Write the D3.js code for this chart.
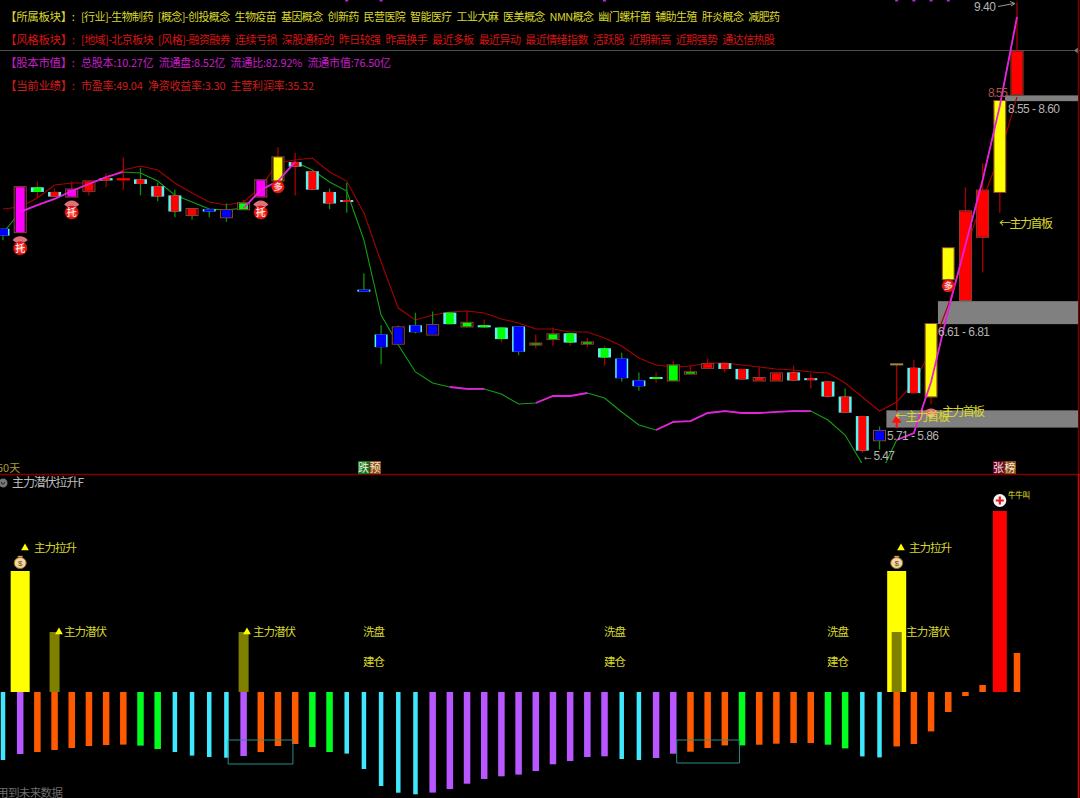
<!DOCTYPE html>
<html>
<head>
<meta charset="utf-8">
<script src="https://cdn.jsdelivr.net/npm/d3@7"></script>
<style>
  html, body { margin: 0; padding: 0; background: #000; overflow: hidden; }
  svg { display: block; }
</style>
</head>
<body>
<svg id="chart" width="1080" height="798"></svg>
<script>
// candles: body top, body bottom, high, low (price)
var bodyTop = [7.44,7.81,7.80,7.76,7.79,7.86,7.88,7.88,7.87,7.81,7.73,7.62,7.61,7.61,7.67,7.87,8.07,8.02,7.94,7.76,7.69,6.91,6.52,6.59,6.60,6.61,6.71,6.63,6.60,6.58,6.59,6.45,6.53,6.53,6.46,6.40,6.31,6.12,6.15,6.26,6.20,6.27,6.27,6.22,6.15,6.19,6.19,6.14,6.11,5.98,5.81,5.69,6.26,6.23,6.62,7.28,7.60,7.78,8.56,8.99]
var bodyBottom = [7.38,7.41,7.76,7.72,7.72,7.77,7.86,7.86,7.83,7.72,7.59,7.56,7.59,7.54,7.61,7.72,7.86,7.98,7.78,7.66,7.68,6.90,6.41,6.44,6.54,6.52,6.61,6.59,6.59,6.48,6.37,6.44,6.48,6.45,6.44,6.32,6.14,6.07,6.14,6.12,6.18,6.23,6.22,6.13,6.12,6.12,6.12,6.13,5.98,5.84,5.51,5.60,6.26,6.01,5.98,7.00,6.82,7.37,7.76,8.61]
var high = [7.44,7.81,7.85,7.79,7.85,7.86,7.92,8.06,7.97,7.84,7.78,7.62,7.61,7.66,7.69,7.87,8.15,8.10,7.94,7.79,7.84,7.05,6.60,6.60,6.71,6.72,6.71,6.72,6.65,6.58,6.59,6.52,6.58,6.53,6.49,6.42,6.36,6.19,6.19,6.29,6.25,6.31,6.27,6.22,6.24,6.19,6.25,6.18,6.12,6.05,5.81,5.72,6.26,6.30,6.62,7.28,7.80,8.01,8.56,9.41]
var low = [7.34,7.41,7.71,7.72,7.72,7.73,7.80,7.78,7.73,7.68,7.54,7.52,7.54,7.50,7.61,7.72,7.86,7.73,7.78,7.61,7.58,6.90,6.26,6.44,6.53,6.52,6.61,6.58,6.58,6.45,6.34,6.40,6.42,6.42,6.41,6.25,6.11,6.03,6.10,6.12,6.18,6.23,6.19,6.13,6.12,6.12,6.12,6.05,5.97,5.84,5.49,5.52,5.85,6.01,5.91,7.00,6.82,7.06,7.58,8.61]
// r red, g green, b blue, m magenta, y yellow, k cap
var candleFill = ["b","m","g","r","m","r","r","r","r","r",
  "r","r","b","b","g","m","y","r","r","r",
  "r","b","b","b","b","b","g","g","g","g",
  "b","g","g","g","g","g","b","b","g","g",
  "g","r","r","r","r","r","r","r","r","r",
  "r","b","k","r","y","y","r","r","y","r"]
// c cyan sides, d dark outline, p plain
var candleEdge = ["c","d","c","c","d","d","c","p","c","c",
  "c","d","c","d","d","d","d","c","c","c",
  "c","c","c","d","c","d","c","d","c","c",
  "c","d","d","c","d","c","c","c","c","d",
  "d","d","c","c","d","d","c","c","c","c",
  "c","d","p","c","d","d","d","d","d","d"]
var wickKind = ["g","r","r","r","r","r","r","r","g","g",
  "g","g","g","g","r","r","r","r","r","g",
  "g","g","g","r","g","g","g","r","r","r",
  "g","r","r","r","r","r","g","g","r","r",
  "r","r","r","r","r","r","r","r","r","g",
  "r","g","r","r","r","r","r","r","r","r"]
// upper and lower band lines
var upperLine = [7.612,7.629,7.707,7.820,7.838,7.838,7.873,7.951,7.986,7.951,7.838,7.751,7.673,7.646,7.673,7.803,8.012,8.038,8.055,7.934,7.855,7.577,7.151,6.750,6.646,6.689,6.716,6.724,6.707,6.655,6.620,6.568,6.568,6.542,6.542,6.489,6.420,6.315,6.254,6.237,6.246,6.272,6.272,6.254,6.237,6.220,6.211,6.194,6.185,6.098,5.976,5.854,5.933,6.098,6.385,6.776,7.255,7.690,8.081,8.586]
var lowerLine = [7.403,7.586,7.646,7.699,7.768,7.829,7.890,7.934,7.925,7.855,7.733,7.673,7.612,7.603,7.620,7.777,7.855,8.021,7.951,7.847,7.768,7.342,6.689,6.428,6.194,6.098,6.063,6.046,6.046,6.002,5.915,5.924,5.985,5.985,6.011,5.967,5.846,5.732,5.689,5.759,5.767,5.837,5.854,5.837,5.837,5.846,5.854,5.854,5.776,5.645,5.393,5.289,5.602,5.663,6.107,6.733,7.298,7.864,8.508,9.282]
var strongRanges = [[1,7],[14,17],[26,28],[31,34],[38,47],[52,59]]
// gray zones
var zoneLow = [8.55,6.61,5.71]
var zoneHigh = [8.60,6.81,5.86]
var zoneStart = [58.3,54.4,51.4]
// signals
var tuoIdx = [1,4,15]
var duoIdx = [16,55]
var fanIdx = [1,4,15,54]
var topMarkIdx = [20,22,35,52,53,54,55]
// lower panel bars
var oscValue = [-68,-62,-60,-58,-56,-54,-53,-52.6,-53.6,-57,-60,-63.6,-65,-65.7,-64,-60,-54,-52,-55,-60,-61.6,-77,-94,-100.7,-102.3,-100.6,-97,-91.7,-87,-84.3,-82.6,-79,-72.3,-69,-65,-64.3,-67,-68,-66,-61.7,-59.7,-56,-53.4,-53.4,-52.7,-51.7,-51,-51,-52.7,-56.4,-64.4,-65.4,-54.4,-52,-39.4,-20,-4,7,181,39]
var oscKind = ["c","p","o","o","o","o","o","o","g","g",
  "c","c","c","c","p","o","o","o","g","g",
  "c","c","c","c","c","p","p","p","p","p",
  "p","p","p","p","p","p","c","c","p","p",
  "o","o","o","g","o","o","o","o","g","g",
  "c","c","o","o","o","o","o","o","r","o"]
var pullIdx = [1,52]
var pullVal = [121,121]
var latentIdx = [3,14,52]
var latentVal = [60,60,60]
var boxStart = [13.1,39.2]
var boxEnd = [16.87,42.85]
var boxTop = [-48,-48]
var boxBottom = [-72,-71]

var headerLabels = ["【所属板块】:","【风格板块】:","【股本市值】:","【当前业绩】:"]
var headerTexts = [
  "[行业]-生物制药 [概念]-创投概念 生物疫苗 基因概念 创新药 民营医院 智能医疗 工业大麻 医美概念 NMN概念 幽门螺杆菌 辅助生殖 肝炎概念 减肥药",
  "[地域]-北京板块 [风格]-融资融券 连续亏损 深股通标的 昨日较强 昨高换手 最近多板 最近异动 最近情绪指数 活跃股 近期新高 近期强势 通达信热股",
  "总股本:10.27亿 流通盘:8.52亿 流通比:82.92% 流通市值:76.50亿",
  "市盈率:49.04 净资收益率:3.30 主营利润率:35.32"
]
var headerWidths = [699,694,310,233]
var headerColors = ["#d9d92e","#d81414","#c81ec8","#d01c1c"]

var n = bodyTop.length
var svg = d3.select("#chart")
var cjk = "'Noto Sans CJK SC', sans-serif"
var num = "'Liberation Sans', sans-serif"

svg.append("rect").attr("width",1080).attr("height",798).attr("fill","#000")

var x = d3.scaleLinear().domain([0,n-1]).range([3,1017])
var y = d3.scaleLinear().domain([9.43,5.08]).range([0,500])
var yOsc = d3.scaleLinear().domain([-100,181]).range([792,511])

var fillColor = d3.scaleOrdinal().domain(["r","g","b","m","y","k"]).range(["#ff0000","#00ff00","#0000ff","#ff00ff","#ffff00","#a08c30"])
var wickColor = d3.scaleOrdinal().domain(["r","g"]).range(["#a80000","#0f8f0f"])
var barColor = d3.scaleOrdinal().domain(["c","p","o","g","r"]).range(["#40e8ff","#b857ff","#ff5a00","#00ff1e","#ff0000"])
var barWidth = d3.scaleOrdinal().domain(["c","p","o","g","r"]).range([4.5,6.5,6.5,6.5,14])

var defs = svg.append("defs")
var grad = defs.append("radialGradient").attr("id","ball")
grad.append("stop").attr("offset","0%").attr("stop-color","#ff8a70")
grad.append("stop").attr("offset","70%").attr("stop-color","#ee1a10")
grad.append("stop").attr("offset","100%").attr("stop-color","#c01010")
defs.append("clipPath").attr("id","mainClip").append("rect").attr("width",1078).attr("height",463)

function label(px,py,t,color,size,len,family) {
  var s = svg.append("text").attr("x",px).attr("y",py).text(t)
    .style("font-family",family || cjk).style("font-size",(size || 12)+"px").attr("fill",color)
  if (len) s.attr("textLength",len).attr("lengthAdjust","spacing")
  return s
}

// header rows
headerLabels.forEach(function(t,i) {
  var py = 21 + i*23
  label(5,py,t,headerColors[i],11.5,70)
  label(81,py,headerTexts[i],headerColors[i],11,headerWidths[i]).style("word-spacing","3px")
})

// frame lines
svg.append("line").attr("x1",0).attr("x2",1080).attr("y1",50.5).attr("y2",50.5).attr("stroke","#4d4d4d")
svg.append("path").attr("d","M1074,50.5L1078,47.5L1078,53.5Z").attr("fill","#777")
svg.append("line").attr("x1",0).attr("x2",1080).attr("y1",474.5).attr("y2",474.5).attr("stroke","#800000").attr("stroke-width",1.5)
svg.append("line").attr("x1",1078.5).attr("x2",1078.5).attr("y1",0).attr("y2",474).attr("stroke","#800000").attr("stroke-width",1.5)
svg.append("line").attr("x1",1078.5).attr("x2",1078.5).attr("y1",474).attr("y2",798).attr("stroke","#e00000").attr("stroke-width",1.5)

// zones
svg.selectAll(".zone").data(zoneLow).enter().append("rect").attr("class","zone")
  .attr("x",function(d,i) { return x(zoneStart[i]) })
  .attr("y",function(d,i) { return y(zoneHigh[i]) })
  .attr("width",function(d,i) { return 1078 - x(zoneStart[i]) })
  .attr("height",function(d,i) { return y(zoneLow[i]) - y(zoneHigh[i]) })
  .attr("fill","#808080")

var lineGen = d3.line().x(function(d) { return x(d[0]) }).y(function(d) { return y(d[1]) })
function pts(arr,a,b) {
  return d3.range(a,b+1).map(function(i) { return [i,arr[i]] })
}

// bands behind candles
var lines = svg.append("g").attr("clip-path","url(#mainClip)")
lines.append("path").attr("d",lineGen(pts(upperLine,0,n-1))).attr("fill","none").attr("stroke","#a80000").attr("stroke-width",1.1)
lines.append("path").attr("d",lineGen(pts(lowerLine,0,n-1))).attr("fill","none").attr("stroke","#12a012").attr("stroke-width",1.1)

// candles
var candles = svg.append("g").selectAll("g").data(d3.range(n)).enter().append("g")
candles.append("line")
  .attr("x1",function(i) { return x(i) }).attr("x2",function(i) { return x(i) })
  .attr("y1",function(i) { return y(high[i]) }).attr("y2",function(i) { return y(low[i]) })
  .attr("stroke",function(i) { return wickColor(wickKind[i]) }).attr("stroke-width",1.3)
candles.each(function(i) {
  var g = d3.select(this)
  var top = y(bodyTop[i]), h = Math.max(y(bodyBottom[i]) - top, 2)
  var fill = fillColor(candleFill[i]), edge = candleEdge[i], kind = candleFill[i]
  if (kind == "k") {
    g.append("rect").attr("x",x(i)-6.5).attr("y",top-1).attr("width",13).attr("height",2).attr("fill",fill)
  } else if (edge == "c") {
    // blue bodies only show a thin cyan rim
    var inner = kind == "b" ? 10 : 8
    g.append("rect").attr("x",x(i)-6.5).attr("y",top).attr("width",13).attr("height",h).attr("fill","#5ef0f0")
    g.append("rect").attr("x",x(i)-inner/2).attr("y",top).attr("width",inner).attr("height",h).attr("fill",fill)
  } else if (edge == "d") {
    // tall red and yellow bodies fill their outline
    var full = (kind == "y" || kind == "r") && h > 25
    var w = full ? 11 : 9
    g.append("rect").attr("x",x(i)-6).attr("y",top+0.5).attr("width",12).attr("height",h).attr("fill","#000").attr("stroke","#93453a")
    g.append("rect").attr("x",x(i)-w/2).attr("y",top+1).attr("width",w).attr("height",Math.max(h-1,1)).attr("fill",fill)
  } else {
    g.append("rect").attr("x",x(i)-6.5).attr("y",top).attr("width",13).attr("height",h).attr("fill",fill)
  }
})

// strong stretches of the lower band on top
lines = svg.append("g").attr("clip-path","url(#mainClip)")
strongRanges.forEach(function(r) {
  lines.append("path").attr("d",lineGen(pts(lowerLine,r[0],r[1]))).attr("fill","none").attr("stroke","#e81ee0").attr("stroke-width",1.8)
})

// small marks on the top edge
svg.selectAll(".topMark").data(topMarkIdx).enter().append("rect").attr("class","topMark")
  .attr("x",function(i) { return x(i)-1.5 }).attr("y",0).attr("width",3).attr("height",1.5).attr("fill","#c020e0")

// signal balls
var fanArc = d3.arc().innerRadius(3).outerRadius(9).startAngle(-1).endAngle(1)
fanIdx.forEach(function(i) {
  var fy = y(low[i]) + 13
  svg.append("path").attr("d",fanArc()).attr("transform","translate("+x(i)+","+fy+")").attr("fill","#e0707a")
  svg.append("path").attr("d",d3.arc().innerRadius(1).outerRadius(5).startAngle(-0.9).endAngle(0.9)()).attr("transform","translate("+x(i)+","+(fy+1)+")").attr("fill","#f0b0b0")
})
tuoIdx.forEach(function(i) {
  var cy = y(low[i]) + 16
  svg.append("circle").attr("cx",x(i)).attr("cy",cy).attr("r",7).attr("fill","url(#ball)")
  label(x(i),cy+3.5,"托","#fff",10).attr("text-anchor","middle")
})
duoIdx.forEach(function(i) {
  var cy = y(bodyBottom[i]) + 6.5
  svg.append("circle").attr("cx",x(i)).attr("cy",cy).attr("r",6.5).attr("fill","url(#ball)")
  label(x(i),cy+3.5,"多","#fde",9.5).attr("text-anchor","middle")
})

// red arrow
svg.append("path").attr("d",d3.symbol().type(d3.symbolTriangle).size(40)()).attr("transform","translate("+x(52)+",420)").attr("fill","#ff1010")
svg.append("rect").attr("x",x(52)-1).attr("y",422).attr("width",2).attr("height",6).attr("fill","#ff1010")

// price labels
var gray = "#b4b4b4", gold = "#d8d82a"
label(974,11,"9.40",gray,12,22,num)
svg.append("path").attr("d","M998,6.5L1014,3.5M1010,1.5L1015,3.5L1011,6").attr("fill","none").attr("stroke","#999").attr("stroke-width",1)
label(988,97,"8.55","#b05050",12,20,num)
label(1008,113,zoneLow[0].toFixed(2)+" - "+zoneHigh[0].toFixed(2),gray,12,52,num)
label(938,336,zoneLow[1].toFixed(2)+" - "+zoneHigh[1].toFixed(2),gray,12,52,num)
label(887,440,zoneLow[2].toFixed(2)+" - "+zoneHigh[2].toFixed(2),gray,12,52,num)
label(862,460,"←5.47",gray,12,33,num)
label(999,228,"←主力首板",gold,12,54)
label(895,421,"←主力首板",gold,12,55)
label(942,416,"主力首板",gold,12,43)

// bottom-of-panel tags
label(-3,472,"50天","#a89a30",11)
function tag(px,py,t,bg) {
  svg.append("rect").attr("x",px).attr("y",py).attr("width",11.5).attr("height",13).attr("fill",bg)
  label(px,py+11,t,"#f4e8d8",11)
}
tag(358,461,"跌","#0c7a24"); tag(369.5,461,"预","#8a4a12")
tag(993,461,"张","#70002a"); tag(1004.5,461,"榜","#8a4a12")

// lower panel title
svg.append("circle").attr("cx",3).attr("cy",483).attr("r",4.5).attr("fill","#777")
svg.append("path").attr("d","M1,482L3,484.5L5,482").attr("fill","none").attr("stroke","#222")
label(12,487,"主力潜伏拉升F","#bdbdbd",12,72)

// oscillator bars
var base = yOsc(0)
svg.append("g").selectAll("rect").data(pullIdx).enter().append("rect")
  .attr("x",function(i) { return x(i)-9.5 }).attr("width",19)
  .attr("y",function(d,j) { return yOsc(pullVal[j]) }).attr("height",function(d,j) { return base - yOsc(pullVal[j]) })
  .attr("fill","#ffff00")
svg.append("g").selectAll("rect").data(latentIdx).enter().append("rect")
  .attr("x",function(i) { return x(i)-5 }).attr("width",10)
  .attr("y",function(d,j) { return yOsc(latentVal[j]) }).attr("height",function(d,j) { return base - yOsc(latentVal[j]) })
  .attr("fill","#808000")
svg.append("g").selectAll("rect").data(oscValue).enter().append("rect")
  .attr("x",function(d,i) { return x(i) - barWidth(oscKind[i])/2 })
  .attr("width",function(d,i) { return barWidth(oscKind[i]) })
  .attr("y",function(d) { return d > 0 ? yOsc(d) : base })
  .attr("height",function(d) { return Math.abs(yOsc(d) - base) })
  .attr("fill",function(d,i) { return barColor(oscKind[i]) })

// teal boxes
boxStart.forEach(function(b,i) {
  svg.append("path").attr("d","M"+x(b)+","+yOsc(boxBottom[i])+"V"+yOsc(boxTop[i])+"H"+x(boxEnd[i])+"V"+yOsc(boxBottom[i])+"Z")
    .attr("fill","none").attr("stroke","#2a8c8c").attr("stroke-width",1)
})

// lower panel labels
function tri(px,py) {
  svg.append("path").attr("d",d3.symbol().type(d3.symbolTriangle).size(26)()).attr("transform","translate("+px+","+py+")").attr("fill","#ffff00")
}
tri(25,548); label(34,552,"主力拉升",gold,11.5,43)
tri(59,632); label(64,636,"主力潜伏",gold,11.5,43)
tri(247,632); label(253,636,"主力潜伏",gold,11.5,43)
tri(901,548); label(909,552,"主力拉升",gold,11.5,43)
label(906,636,"主力潜伏",gold,11.5,44)
;[363,604,827].forEach(function(px) {
  label(px,636,"洗盘",gold,11.5,22)
  label(px,666,"建仓",gold,11.5,22)
})

// money bags
pullIdx.forEach(function(i) {
  var cx = x(i), cy = 562
  svg.append("path").attr("d","M"+(cx-2.5)+","+(cy-6)+"L"+(cx+2.5)+","+(cy-6)+"L"+(cx+1.5)+","+(cy-3.5)+"L"+(cx-1.5)+","+(cy-3.5)+"Z").attr("fill","#e8c080").attr("stroke","#8a5a20").attr("stroke-width",0.6)
  svg.append("ellipse").attr("cx",cx).attr("cy",cy+1).attr("rx",6).attr("ry",5.5).attr("fill","#f0d8a8").attr("stroke","#a06a20").attr("stroke-width",1)
  label(cx,cy+4,"$","#7a4a10",8,null,num).attr("text-anchor","middle")
})

// plus sign over the red bar
svg.append("circle").attr("cx",x(58)).attr("cy",500.5).attr("r",6.5).attr("fill","#f4f4f4")
svg.append("path").attr("d","M"+(x(58)-4)+",500.5H"+(x(58)+4)+"M"+x(58)+",496.5V504.5").attr("stroke","#e81818").attr("stroke-width",2.2)
label(1008,498,"牛牛叫","#e8e820",7.5,22)

// footer
label(-3,797,"用到未来数据","#6e6e6e",11.5,66)
</script>
</body>
</html>
